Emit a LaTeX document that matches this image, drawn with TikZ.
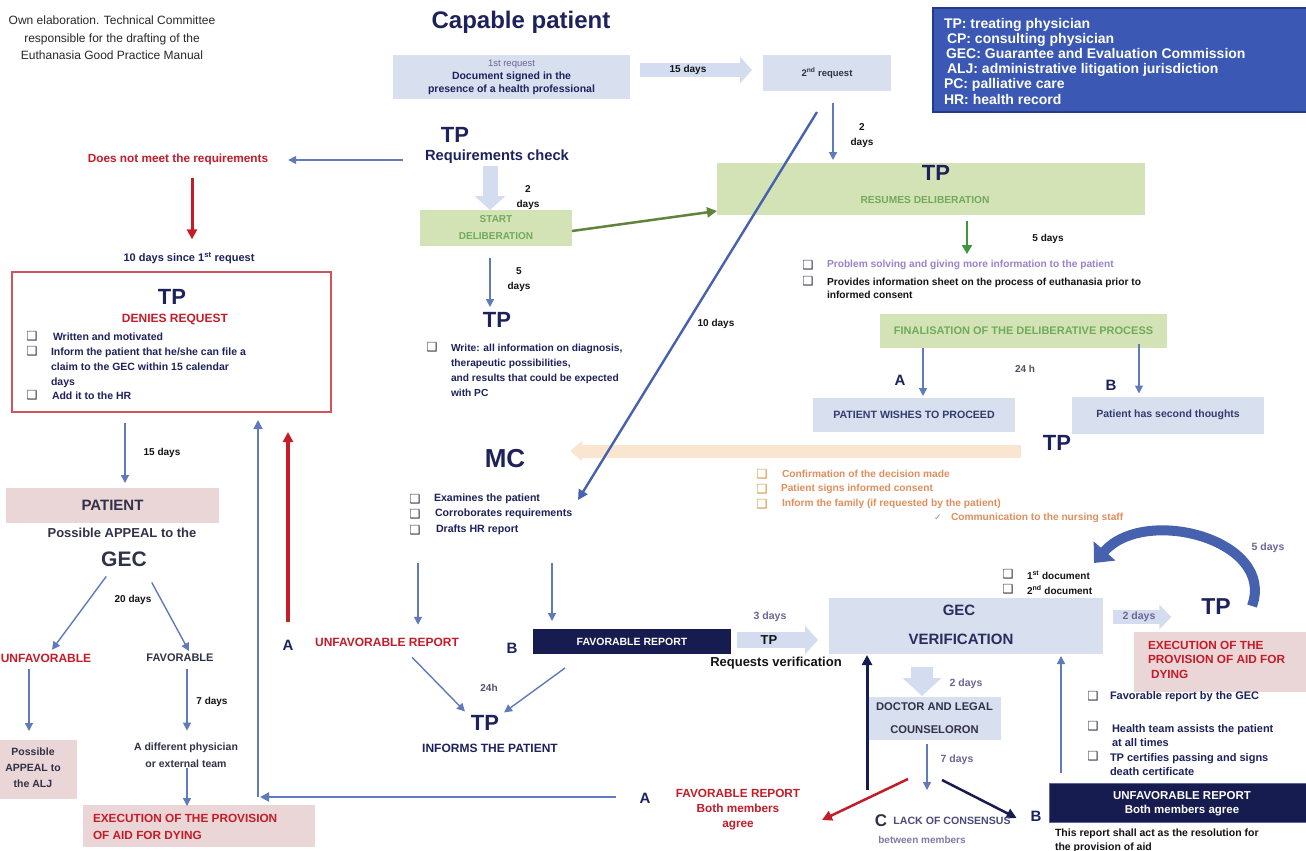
\documentclass[tikz,border=0pt]{standalone}
\usepackage{fontspec}
\setmainfont{Liberation Sans}
\newfontfamily\djv{DejaVu Sans}
\usetikzlibrary{arrows.meta,calc}
\definecolor{navy}{RGB}{30,34,92}
\definecolor{red1}{RGB}{196,28,40}
\definecolor{lblue}{RGB}{216,223,239}
\definecolor{fatb}{RGB}{212,220,240}
\definecolor{lgreen}{RGB}{211,227,182}
\definecolor{gtext}{RGB}{112,170,92}
\definecolor{pink1}{RGB}{234,213,215}
\definecolor{legbl}{RGB}{58,88,180}
\definecolor{legbd}{RGB}{36,56,140}
\definecolor{dnavy}{RGB}{22,27,80}
\definecolor{arb}{RGB}{96,122,188}
\definecolor{arb2}{RGB}{70,98,175}
\definecolor{orng}{RGB}{226,142,92}
\definecolor{peach}{RGB}{250,229,208}
\definecolor{lav}{RGB}{150,132,205}
\definecolor{gpur}{RGB}{110,100,152}
\definecolor{dgray}{RGB}{48,50,72}
\definecolor{olive}{RGB}{98,132,58}
\definecolor{dgreen}{RGB}{62,150,62}
\definecolor{redbd}{RGB}{208,84,92}
\definecolor{cbg}{RGB}{60,62,80}
\definecolor{ocbg}{RGB}{215,150,60}
\definecolor{srcg}{RGB}{40,40,40}
\definecolor{blk}{RGB}{20,20,24}
\definecolor{lgray}{RGB}{150,150,160}
\newcommand{\fz}[2]{\fontsize{#1}{#2}\selectfont}
\newcommand{\cbsym}{{\djv\char"2751}}
\newcommand{\ckm}{{\djv\char"2713}}
\begin{document}
\begin{tikzpicture}[x=1pt,y=-1pt,
  t/.style={inner sep=0pt, outer sep=0pt},
  box/.style={inner sep=0pt, outer sep=0pt},
  cb/.style={inner sep=0pt, outer sep=0pt, font=\djv\fz{12.5}{13}, text=cbg},
  ocb/.style={cb, text=ocbg},
  arr/.style={draw=arb, line width=1.4pt, -{Triangle[width=8pt,length=8pt]}},
  darr/.style={draw=arb2, line width=2.4pt, -{Triangle[width=10pt,length=10pt]}},
  rarr/.style={draw=red1, line width=3pt, -{Triangle[width=10pt,length=10pt]}},
  big/.style={t, font=\bfseries\fz{22}{24}, text=navy},
  lett/.style={t, font=\bfseries\fz{15}{16}, text=navy},
  days/.style={t, font=\bfseries\fz{10}{15}, text=blk, align=center},
  pdays/.style={t, font=\bfseries\fz{10.5}{12}, text=gpur},
]
\useasboundingbox (0,0) rectangle (1306,851);
\fill[white] (0,0) rectangle (1306,851);

% ---------- header ----------
\node[t, font=\fz{12}{17.5}, align=center, text=srcg] (src) at (112,38) {Own elaboration. Technical Committee\\responsible for the drafting of the\\Euthanasia Good Practice Manual};
\node[t, font=\bfseries\fz{24}{28}, text=navy] (title) at (521,22) {Capable patient};

\node[box, fill=lblue, minimum width=237, minimum height=44, align=center, font=\bfseries\fz{10.5}{13}, text=navy] (req1) at (511.5,77) {{\mdseries\fz{9.5}{13}\color{gpur}1st request}\\Document signed in the\\presence of a health professional};
\node[box, fill=lblue, minimum width=128, minimum height=36, font=\bfseries\fz{9.5}{12}, text=dgray] (req2) at (827,73) {2\textsuperscript{nd} request};

\node[box, fill=legbl, draw=legbd, line width=1.5pt, minimum width=380, minimum height=104, anchor=north west] (leg) at (933,8) {};
\node[t, anchor=north west, align=left, font=\bfseries\fz{14}{15.2}, text=white] (legt) at (944,18) {TP: treating physician\\\hspace*{3pt}CP: consulting physician\\\hspace*{2pt}GEC: Guarantee and Evaluation Commission\\\hspace*{3pt}ALJ: administrative litigation jurisdiction\\PC: palliative care\\HR: health record};

% 15 days fat arrow
\draw[draw=fatb, line width=14pt, -{Triangle[width=26pt,length=12pt]}] ($(req1.east)+(10,-7)$) -- ($(req2.west)+(-11,-3)$);
\node[t, font=\bfseries\fz{10}{12}, text=blk] (d15) at (688,70) {15 days};

% ---------- TP requirements ----------
\node[big] (tp1) at (455,135) {TP};
\node[t, font=\bfseries\fz{14.7}{16}, text=navy] (reqchk) at (497,157) {Requirements check};
\node[t, font=\bfseries\fz{11.8}{14}, text=red1] (doesnot) at (178,159) {Does not meet the requirements};
\node[t, font=\bfseries\fz{11}{13}, text=navy] (ten) at (189,258) {10 days since 1\textsuperscript{st} request};
\draw[arr] ($(reqchk.west)+(-22,3)$) -- ($(doesnot.east)+(20,1)$);
\draw[rarr] ($(doesnot.south)+(14,13)$) -- ($(ten.north)+(3,-13)$);

\node[box, fill=lgreen, minimum width=152, minimum height=36, align=center, font=\bfseries\fz{10}{17}, text=gtext] (startdel) at (496,228) {START\\DELIBERATION};
\draw[draw=fatb, line width=15pt, -{Triangle[width=30pt,length=14pt]}] ($(reqchk.south)+(-7,2)$) -- ($(startdel.north)+(-6,0)$);
\node[days] (d2a) at (528,198) {2\\days};

% resumes
\node[box, fill=lgreen, minimum width=428, minimum height=52] (resumes) at (931,189) {};
\node[big] (tp2) at (936,173) {TP};
\node[t, font=\bfseries\fz{10.2}{12}, text=gtext] (resd) at (925,200) {RESUMES DELIBERATION};
\draw[draw=olive, line width=2.5pt, -{Triangle[width=10pt,length=10pt]}] ($(startdel.east)+(0,3)$) -- ($(resumes.west)+(0,22)$);
\draw[arr] ($(req2.south)+(6,12)$) -- ($(resumes.north)+(-98,-3)$);
\node[days] (d2b) at (862,136) {2\\days};
\draw[draw=dgreen, line width=2.5pt, -{Triangle[width=10pt,length=9pt]}] ($(resumes.south)+(36,6)$) -- ++(0,33) coordinate (gtip);
\node[t, font=\bfseries\fz{10}{12}, text=blk] (d5a) at (1048,239) {5 days};

\node[cb] (cbp1) at (808,265) {\cbsym};
\node[cb] (cbp2) at (808,281) {\cbsym};
\node[t, anchor=west, font=\bfseries\fz{10.2}{13}, text=lav] (prob) at (827,265) {Problem solving and giving more information to the patient};
\node[t, anchor=north west, align=left, font=\bfseries\fz{10.2}{13}, text=blk] (prov) at (827,278) {Provides information sheet on the process of euthanasia prior to\\informed consent};

% finalisation
\node[box, fill=lgreen, minimum width=287, minimum height=34, font=\bfseries\fz{11}{13}, text=gtext] (final) at (1023.5,331) {FINALISATION OF THE DELIBERATIVE PROCESS};
\node[box, fill=lblue, minimum width=202, minimum height=34, font=\bfseries\fz{10.6}{13}, text={rgb,255:red,52;green,60;blue,110}] (proceed) at (914,415) {PATIENT WISHES TO PROCEED};
\node[box, fill=lblue, minimum width=192, minimum height=37, font=\bfseries\fz{10.5}{13}, text={rgb,255:red,52;green,60;blue,110}] (second) at (1168,415) {Patient has second thoughts};
\draw[arr] ($(final.south)+(-100.5,0)$) -- ($(proceed.north)+(9,-2)$);
\draw[arr] ($(final.south)+(115.5,-4)$) -- ($(second.north)+(-29,-3)$);
\node[lett] (la1) at (900,380) {A};
\node[lett] (lb1) at (1111,385) {B};
\node[t, font=\bfseries\fz{10}{12}, text={rgb,255:red,80;green,80;blue,100}] (h24a) at (1025,369) {24 h};
\node[big] (tp3) at (1057,443) {TP};

% peach arrow to MC
\node[t, font=\bfseries\fz{26}{28}, text=navy] (mc) at (505,459) {MC};
\draw[draw=peach, line width=13pt, -{Triangle[width=20pt,length=12pt]}] ($(tp3.west)+(-22,8)$) -- ($(mc.east)+(45,-8)$);

% orange list
\node[ocb] (cbo1) at (762,474) {\cbsym};
\node[ocb] (cbo2) at (762,489) {\cbsym};
\node[ocb] (cbo3) at (762,504) {\cbsym};
\node[t, anchor=west, font=\bfseries\fz{10.2}{12}, text=orng] (conf) at (782,474) {Confirmation of the decision made};
\node[t, anchor=west, font=\bfseries\fz{10.2}{12}, text=orng] (signs) at (781,489) {Patient signs informed consent};
\node[t, anchor=west, font=\bfseries\fz{10.2}{12}, text=orng] (family) at (782,504) {Inform the family (if requested by the patient)};
\node[t, font=\djv\fz{9}{9}, text=lgray] (ck) at (938,518) {\ckm};
\node[t, anchor=west, font=\bfseries\fz{10.2}{12}, text=orng] (nurse) at (951,518) {Communication to the nursing staff};

% TP write
\draw[arr] ($(startdel.south)+(-6,12)$) -- ++(0,49) coordinate (w5tip);
\node[days] (d5b) at (519,280) {5\\days};
\node[big] (tp4) at (497,320) {TP};
\node[cb] (cbw) at (432,347) {\cbsym};
\node[t, anchor=north west, align=left, font=\bfseries\fz{10.2}{15}, text=navy] (write) at (451,344) {Write: all information on diagnosis,\\therapeutic possibilities,\\and results that could be expected\\with PC};

% long diagonal
\coordinate (dtop) at (817,112);
\draw[darr] (dtop) -- (578,500) coordinate (dbot);
\node[t, font=\bfseries\fz{10}{12}, text=blk] (d10) at (716,324) {10 days};

% MC list
\node[cb] (cbm1) at (415,499) {\cbsym};
\node[cb] (cbm2) at (415,514) {\cbsym};
\node[cb] (cbm3) at (415,530) {\cbsym};
\node[t, anchor=west, font=\bfseries\fz{10.6}{12}, text=navy] (exam) at (434,499) {Examines the patient};
\node[t, anchor=west, font=\bfseries\fz{10.6}{12}, text=navy] (corr) at (435,514) {Corroborates requirements};
\node[t, anchor=west, font=\bfseries\fz{10.6}{12}, text=navy] (draft) at (436,530) {Drafts HR report};

% reports
\node[lett] (la2) at (288,645) {A};
\node[t, font=\bfseries\fz{12}{14}, text=red1] (unfm) at (387,642) {UNFAVORABLE REPORT};
\node[lett] (lb2) at (512,648) {B};
\node[box, fill=dnavy, minimum width=198, minimum height=25, font=\bfseries\fz{10.5}{12}, text=white] (favm) at (632,641.5) {FAVORABLE REPORT};
\draw[arr] ($(unfm.north)+(31,-75)$) -- ($(unfm.north)+(31,-13)$);
\draw[arr] ($(favm.north)+(-80,-66)$) -- ($(favm.north)+(-80,-8)$);
\node[t, font=\bfseries\fz{10}{12}, text={rgb,255:red,80;green,80;blue,100}] (h24b) at (489,688) {24h};
\node[big] (tp5) at (485,723) {TP};
\node[t, font=\bfseries\fz{12}{14}, text=navy] (informs) at (490,748) {INFORMS THE PATIENT};
\draw[arr] ($(unfm.south)+(25,11)$) -- ($(tp5.north west)+(-6,-4)$);
\draw[arr] ($(favm.south)+(-67,14)$) -- ($(tp5.north east)+(5,-3)$);

% TP requests verification
\node[box, fill=lblue, minimum width=274, minimum height=56] (gecv) at (966,626) {};
\node[t, font=\bfseries\fz{15}{17}, text={rgb,255:red,40;green,45;blue,90}] (gect) at (959,610) {GEC};
\node[t, font=\bfseries\fz{15}{17}, text={rgb,255:red,40;green,45;blue,90}] (verif) at (961,639) {VERIFICATION};
\draw[draw=fatb, line width=16pt, -{Triangle[width=28pt,length=13pt]}] ($(favm.east)+(6,-1.5)$) -- ($(gecv.west)+(-11,14)$);
\node[t, font=\bfseries\fz{13}{14}, text=blk] (tpv) at (769,640) {TP};
\node[pdays] (d3) at (770,617) {3 days};
\node[t, font=\bfseries\fz{13}{15}, text=blk] (reqv) at (776,663) {Requests verification};

\node[cb] (cbd1) at (1008,574) {\cbsym};
\node[cb] (cbd2) at (1008,589) {\cbsym};
\node[t, anchor=west, font=\bfseries\fz{10}{12}, text=blk] (doc1) at (1027,575) {1\textsuperscript{st} document};
\node[t, anchor=west, font=\bfseries\fz{10}{12}, text=blk] (doc2) at (1027,590) {2\textsuperscript{nd} document};

\node[t, font=\bfseries\fz{23}{25}, text=navy] (tp6) at (1216,607) {TP};
\draw[draw=fatb, line width=14pt, -{Triangle[width=24pt,length=12pt]}] ($(gecv.east)+(10,-9)$) -- ($(tp6.west)+(-30,10)$);
\node[pdays] (d2c) at (1139,617) {2 days};
\coordinate (cvs) at (1252,606);
\coordinate (cve) at (1094,563);
\draw[draw=arb2, line width=10pt, -{Triangle[width=28pt,length=16pt]}] (cvs) .. controls (1276,540) and (1145,505) .. (cve);
\node[pdays] (d5c) at (1268,548) {5 days};

\node[box, fill=pink1, minimum width=172, minimum height=60] (execr) at (1220,662) {};
\node[t, anchor=north west, align=left, font=\bfseries\fz{11.8}{14.5}, text=red1] (execrt) at (1148,641) {EXECUTION OF THE\\PROVISION OF AID FOR\\\hspace*{3pt}DYING};

\node[cb] (cbr1) at (1093,696) {\cbsym};
\node[cb] (cbr2) at (1093,726) {\cbsym};
\node[cb] (cbr3) at (1093,756) {\cbsym};
\node[t, anchor=west, font=\bfseries\fz{11}{14}, text=navy] (fgec) at (1110,697) {Favorable report by the GEC};
\node[t, anchor=north west, align=left, font=\bfseries\fz{11}{14}, text=navy] (health) at (1112,724.5) {Health team assists the patient\\at all times};
\node[t, anchor=north west, align=left, font=\bfseries\fz{11}{14}, text=navy] (certif) at (1110,753.5) {TP certifies passing and signs\\death certificate};

\node[box, fill=dnavy, draw={rgb,255:red,90;green,100;blue,160}, line width=1pt, minimum width=257, minimum height=39] (unfr) at (1177.5,802.5) {};
\node[t, align=center, font=\bfseries\fz{11.5}{14}, text=white] (unfrt) at (1182,804) {UNFAVORABLE REPORT\\Both members agree};
\node[t, anchor=north west, align=left, font=\bfseries\fz{10.5}{13.5}, text=blk] (resol) at (1055,829) {This report shall act as the resolution for\\the provision of aid};
\node[lett] (lb3) at (1036,816) {B};

% doctor and legal
\node[box, fill=lblue, minimum width=133, minimum height=43, align=center, font=\bfseries\fz{11.2}{23}, text=dgray] (doctor) at (934.5,718.5) {DOCTOR AND LEGAL\\COUNSELORON};
\draw[draw=fatb, line width=22pt, -{Triangle[width=38pt,length=18pt]}] ($(gecv.south)+(-44,13)$) -- ($(doctor.north)+(-12.5,-1)$);
\node[pdays] (d2d) at (966,684) {2 days};
\node[pdays] (d7b) at (957,760) {7 days};
\draw[arr, line width=1.2pt] ($(doctor.south)+(-7.5,4)$) -- ++(0,46) coordinate (ctip);
\draw[draw=red1, line width=2.5pt, -{Triangle[width=10pt,length=10pt]}] (908,779) coordinate (rst) -- (822,820) coordinate (rtip);
\draw[draw=dnavy, line width=2.5pt, -{Triangle[width=10pt,length=10pt]}] (942,780) coordinate (nst) -- ($(lb3.west)+(-14,2)$);
\draw[draw=dnavy, line width=3pt, -{Triangle[width=10pt,length=10pt]}] (867,790) coordinate (vst) -- ($(gecv.south west)+(38,1)$);
\draw[arr] ($(unfr.north west)+(12,-10)$) -- ($(gecv.south east)+(-42,2)$);
\node[t, font=\bfseries\fz{17}{18}, text=dgray] (lc) at (881,821) {C};
\node[t, font=\bfseries\fz{10.6}{12}, text={rgb,255:red,75;green,75;blue,120}] (lack) at (952,821) {LACK OF CONSENSUS};
\node[t, font=\bfseries\fz{10}{12}, text={rgb,255:red,130;green,120;blue,170}] (betw) at (922,840) {between members};

% bottom A favorable
\node[lett] (la3) at (645,798) {A};
\node[t, align=center, font=\bfseries\fz{11.8}{15}, text=red1] (favb) at (738,810) {FAVORABLE REPORT\\Both members\\agree};
\coordinate (corner) at (258,797);
\draw[draw=arb, line width=2pt, -{Triangle[width=9pt,length=9pt]}] ($(la3.west)+(-24,-1)$) -- ($(corner)+(2,0)$);
\draw[draw=arb, line width=1.6pt, -{Triangle[width=9pt,length=9pt]}] (corner) -- (258,420) coordinate (vtop);
\draw[rarr, line width=3.5pt] ($(la2.north)+(0,-18)$) -- (288,432) coordinate (rtop);

% ---------- left column ----------
\node[box, draw=redbd, line width=1.5pt, fill=white, minimum width=319, minimum height=140] (denies) at (171.5,342) {};
\node[big] (tp7) at (172,297) {TP};
\node[t, font=\bfseries\fz{12}{14}, text=red1] (deniest) at (175,319) {DENIES REQUEST};
\node[cb] (cbl1) at (32,336) {\cbsym};
\node[cb] (cbl2) at (32,351) {\cbsym};
\node[cb] (cbl3) at (32,395) {\cbsym};
\node[t, anchor=west, font=\bfseries\fz{10.5}{14.7}, text=navy] (writ) at (53,337) {Written and motivated};
\node[t, anchor=north west, align=left, font=\bfseries\fz{10.5}{14.7}, text=navy] (infp) at (51,348) {Inform the patient that he/she can file a\\claim to the GEC within 15 calendar\\days};
\node[t, anchor=west, font=\bfseries\fz{10.5}{14.7}, text=navy] (addhr) at (52,396) {Add it to the HR};

\node[box, fill=pink1, minimum width=213, minimum height=35, font=\bfseries\fz{15}{17}, text=dgray] (patient) at (112.5,505.5) {PATIENT};
\draw[arr] ($(denies.south)+(-46.5,11)$) -- ($(patient.north)+(12.5,-5)$);
\node[t, font=\bfseries\fz{10}{12}, text=blk] (d15b) at (162,453) {15 days};
\node[t, font=\bfseries\fz{13}{15}, text=dgray] (appeal) at (122,533) {Possible APPEAL to the};
\node[t, font=\bfseries\fz{21}{23}, text=dgray] (gecl) at (124,559) {GEC};
\node[t, font=\bfseries\fz{10}{12}, text=blk] (d20) at (133,600) {20 days};
\node[t, font=\bfseries\fz{12}{14}, text=red1] (unfl) at (46,658) {UNFAVORABLE};
\node[t, font=\bfseries\fz{11}{13}, text=dgray] (favl) at (180,658) {FAVORABLE};
\draw[arr] ($(gecl.south west)+(5,10)$) -- ($(unfl.north)+(6,-4)$);
\draw[arr] ($(gecl.south east)+(5,16)$) -- ($(favl.north)+(9,-3)$);
\node[box, fill=pink1, minimum width=77, minimum height=59] (alj) at (38.5,769.5) {};
\node[t, align=center, font=\bfseries\fz{10.5}{16}, text=dgray] (aljt) at (33,768) {Possible\\APPEAL to\\the ALJ};
\draw[arr] ($(unfl.south)+(-17,7)$) -- ($(alj.north)+(-9.5,-9)$);
\node[t, align=center, font=\bfseries\fz{10.5}{17}, text=dgray] (diff) at (186,755) {A different physician\\or external team};
\draw[arr] ($(favl.south)+(7,7)$) -- ($(diff.north)+(1,-12)$);
\node[t, font=\bfseries\fz{10}{12}, text=blk] (d7a) at (212,702) {7 days};
\node[box, fill=pink1, minimum width=232, minimum height=42] (execl) at (199,826) {};
\node[t, anchor=north west, align=left, font=\bfseries\fz{11.8}{17}, text=red1] (execlt) at (93,814.5) {EXECUTION OF THE PROVISION\\OF AID FOR DYING};
\draw[arr] ($(diff.south)+(1,1)$) -- ($(execl.north)+(-12,1)$);
\end{tikzpicture}
\end{document}
